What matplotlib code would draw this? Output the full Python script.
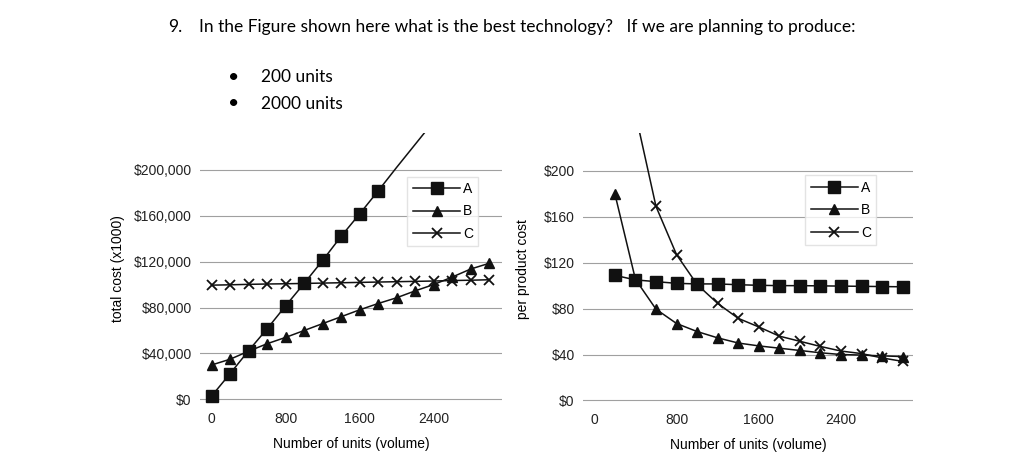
import numpy as np
import matplotlib.pyplot as plt

plt.rcParams['font.family'] = ['Liberation Sans', 'DejaVu Sans']

# left chart: total cost, units 0..3000 step 200
units = [0, 200, 400, 600, 800, 1000, 1200, 1400, 1600, 1800, 2000, 2200,
         2400, 2600, 2800, 3000]
total_a = [3000, 22500, 42500, 61500, 81500, 101000, 121000, 142000, 161500,
           181500, 202000, 222000, 242000]
total_b = [30000, 35000, 42000, 48500, 54000, 60000, 66000, 72000, 78000,
           83500, 88500, 94500, 100000, 106500, 113500, 118500]
total_c = [99500, 99800, 100200, 100500, 100700, 101000, 101300, 101600,
           101900, 102200, 102500, 102800, 103100, 103500, 103800, 104200]

# right chart: per product cost, units 200..3000
units_pp = [200, 400, 600, 800, 1000, 1200, 1400, 1600, 1800, 2000, 2200,
            2400, 2600, 2800, 3000]
per_a = [109, 105, 103.5, 102, 101.5, 101.5, 100.8, 100.3, 100, 100, 99.8,
         99.6, 99.4, 99.2, 99]
per_b = [180, 105.5, 79.5, 67, 60, 54.5, 50, 47.5, 45.5, 43.5, 41.5, 40,
         39.5, 38.8, 38.2]
per_c = [500, 250, 169, 127, 101, 84.5, 71.5, 64, 56, 51.5, 47, 43, 40.8,
         37, 34]

xticks = [0, 800, 1600, 2400]

fig = plt.figure(figsize=(10.24, 4.72), dpi=100)
fig.patch.set_facecolor('white')

fig.text(168/1024, 1-27/472, "9.", fontsize=12.5, family='Lato', va='center')
fig.text(199/1024, 1-27/472,
         "In the Figure shown here what is the best technology?   If we are planning to produce:",
         fontsize=12.5, family='Lato', va='center')
for yy, txt in [(77, "200 units"), (104, "2000 units")]:
    fig.text(234/1024, 1-yy/472, "\u2022", fontsize=14, family='Lato',
             ha='center', va='center')
    fig.text(261/1024, 1-yy/472, txt, fontsize=12.5, family='Lato', va='center')

ax1 = fig.add_axes([200/1024, (472-404)/472, 302/1024, (404-133)/472])
ax2 = fig.add_axes([583/1024, (472-405)/472, 330/1024, (405-133)/472])

def style(ax):
    for s in ax.spines.values():
        s.set_visible(False)
    ax.tick_params(length=0, labelsize=10, colors='#222222', pad=6)
    ax.yaxis.grid(True, color='#a0a0a0', lw=0.8)
    ax.set_axisbelow(True)
    ax.set_xticks(xticks)
    ax.set_xticklabels([str(t) for t in xticks])

kw = dict(color='#111111', lw=1.1)
leg_kw = dict(loc='upper right', fontsize=10, frameon=True, fancybox=False,
              edgecolor='#dddddd', handlelength=3.4, handletextpad=0.2,
              labelspacing=0.6, borderpad=0.4)

# left
n_mark = sum(1 for v in total_a if v <= 200000)
ax1.plot(units[:len(total_a)], total_a, marker='s', ms=8.5, markevery=list(range(n_mark)),
         label='A', **kw)
ax1.plot(units, total_b, marker='^', ms=7.5, label='B', **kw)
ax1.plot(units, total_c, marker='x', ms=7, mew=1.3, label='C', **kw)
ax1.set_xlim(-126, 3140)
ax1.set_ylim(-4000, 232000)
ax1.set_yticks([0, 40000, 80000, 120000, 160000, 200000])
ax1.set_yticklabels(['$0', '$40,000', '$80,000', '$120,000', '$160,000', '$200,000'])
style(ax1)
ax1.set_xlabel('Number of units (volume)', fontsize=10, labelpad=8)
ax1.set_ylabel('total cost (x1000)', fontsize=10, labelpad=6)
ax1.legend(bbox_to_anchor=(0.945, 0.865), **leg_kw)

# right
ax2.plot(units_pp, per_a, marker='s', ms=8.5, label='A', **kw)
ax2.plot(units_pp, per_b, marker='^', ms=7.5, label='B', **kw)
ax2.plot(units_pp, per_c, marker='x', ms=7, mew=1.3, label='C', **kw)
ax2.set_xlim(-110, 3100)
ax2.set_ylim(-4, 233)
ax2.set_yticks([0, 40, 80, 120, 160, 200])
ax2.set_yticklabels(['$0', '$40', '$80', '$120', '$160', '$200'])
style(ax2)
ax2.set_xlabel('Number of units (volume)', fontsize=10, labelpad=8)
ax2.set_ylabel('per product cost', fontsize=10, labelpad=10)
ax2.legend(bbox_to_anchor=(0.91, 0.87), **leg_kw)

fig.savefig('out.png', dpi=100, facecolor='white')
